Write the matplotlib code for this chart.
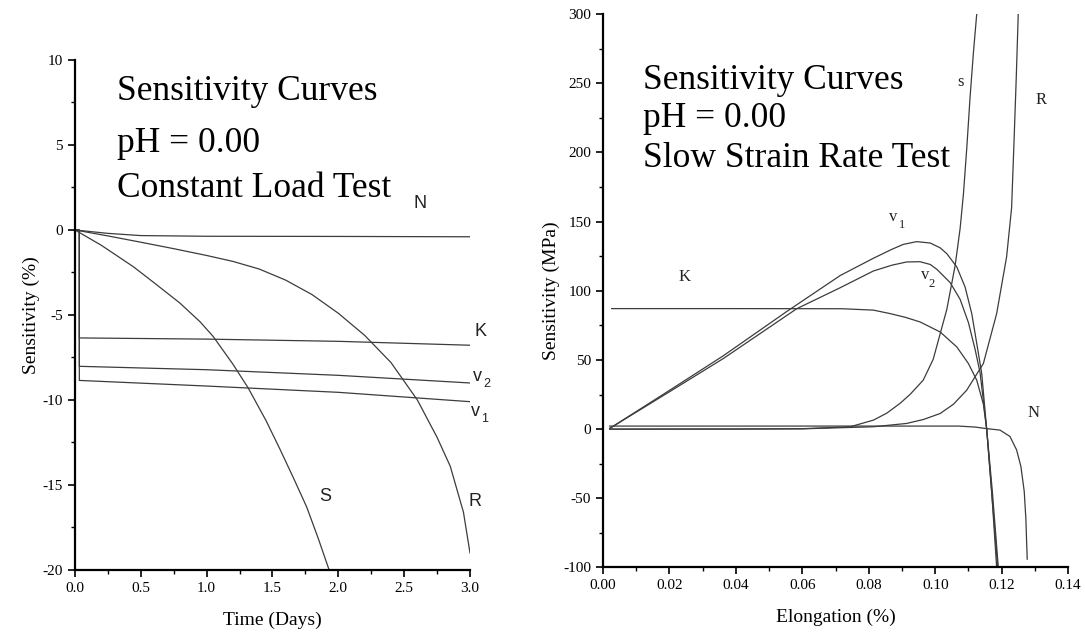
import numpy as np
import matplotlib
matplotlib.use("Agg")
import matplotlib.pyplot as plt
from matplotlib.ticker import MultipleLocator, FormatStrFormatter

plt.rcParams['font.family'] = ['Liberation Serif', 'DejaVu Serif']
plt.rcParams['axes.unicode_minus'] = False

# ---- left panel: constant load test (time in days, sensitivity %) ----
cl_N_t = [0, 0.25, 0.5, 1.0, 2.0, 3.0]
cl_N_y = [0, -0.2, -0.33, -0.37, -0.38, -0.4]
cl_K_t = [0, 0.033, 0.033, 1.0, 2.0, 3.0]
cl_K_y = [0, 0, -6.35, -6.42, -6.55, -6.78]
cl_v2_t = [0, 0.033, 0.033, 1.0, 2.0, 3.0]
cl_v2_y = [0, 0, -8.02, -8.22, -8.55, -9.0]
cl_v1_t = [0, 0.033, 0.033, 1.0, 2.0, 3.0]
cl_v1_y = [0, 0, -8.85, -9.18, -9.55, -10.1]
cl_S_t = [0, 0.2, 0.443, 0.6, 0.797, 0.95, 1.05, 1.2, 1.316, 1.45, 1.557, 1.66, 1.76,
          1.85, 1.93]
cl_S_y = [0, -0.9, -2.16, -3.1, -4.3, -5.4, -6.27, -7.9, -9.3, -11.2, -12.9, -14.6, -16.3,
          -18.2, -20.0]
cl_R_t = [0, 0.25, 0.5, 0.75, 1.0, 1.2, 1.4, 1.6, 1.8, 2.0, 2.2, 2.4, 2.6, 2.75, 2.85,
          2.95, 3.0]
cl_R_y = [0, -0.35, -0.72, -1.1, -1.5, -1.85, -2.3, -2.95, -3.8, -4.9, -6.2, -7.8, -10.0,
          -12.2, -13.9, -16.6, -19.0]

# ---- right panel: slow strain rate test (elongation %, sensitivity MPa) ----
ss_K_x = [0.0026, 0.04, 0.072, 0.0814, 0.0864, 0.091, 0.0954, 0.1015, 0.1065, 0.110,
          0.1125, 0.1145, 0.1155, 0.1168, 0.118, 0.1188]
ss_K_y = [87.1, 87.1, 87.0, 86.0, 83.5, 80.8, 77.5, 70.2, 59.4, 47.4, 35.4, 18, 0, -40,
          -75, -100]
ss_v1_x = [0.002, 0.02, 0.0362, 0.0553, 0.0714, 0.0814, 0.087, 0.0904, 0.0944, 0.0985,
           0.1015, 0.1035, 0.1065, 0.109, 0.111, 0.1125, 0.114, 0.1155, 0.117, 0.1185]
ss_v1_y = [0.5, 28, 53, 85, 111, 123.5, 130, 133.5, 135.5, 134.5, 131, 126.8, 117.2,
           102.7, 83.5, 62, 40.2, 0, -45, -100]
ss_v2_x = [0.002, 0.02, 0.0362, 0.0583, 0.0714, 0.0814, 0.087, 0.0914, 0.0954, 0.0985,
           0.1005, 0.1045, 0.1075, 0.110, 0.112, 0.1135, 0.1155, 0.1172, 0.119]
ss_v2_y = [0.5, 27, 51, 87, 102.2, 114.3, 118.5, 120.8, 121, 119, 115.5, 105.9, 93.8,
           77, 57.7, 40.9, 0, -45, -100]
ss_S_x = [0.002, 0.04, 0.06, 0.0744, 0.0814, 0.0854, 0.0894, 0.0924, 0.0964, 0.0994,
          0.1035, 0.106, 0.1075, 0.1085, 0.1095, 0.1105, 0.1115, 0.1125]
ss_S_y = [0, 0, 0.3, 1.7, 6.5, 11.5, 18.6, 25, 35.4, 50.5, 86.6, 118.2, 145, 170, 203,
          240, 272, 300]
ss_R_x = [0.002, 0.06, 0.0814, 0.0914, 0.0965, 0.1015, 0.1055, 0.1095, 0.1145, 0.1185,
          0.1215, 0.123, 0.1237, 0.1244, 0.125]
ss_R_y = [0, 0.2, 1.7, 4.1, 7.0, 11.3, 18, 28.2, 47.4, 83.5, 124.6, 160, 206, 254, 300]
ss_N_x = [0.002, 0.05, 0.107, 0.112, 0.115, 0.1195, 0.1225, 0.1245, 0.1258, 0.1268,
          0.1273, 0.1275, 0.1277]
ss_N_y = [2.2, 2.2, 2.2, 1.5, 0.5, -0.7, -5.3, -15, -27, -45, -65, -80, -94]

line_col = '#3c3c3c'
lw = 0.9

fig = plt.figure(figsize=(10.85, 6.4), dpi=100)
ax1 = fig.add_axes([0.0691, 0.1094, 0.3641, 0.7969])
ax2 = fig.add_axes([0.5558, 0.1133, 0.4286, 0.8648])

for ax in (ax1, ax2):
    ax.spines['top'].set_visible(False)
    ax.spines['right'].set_visible(False)
    ax.spines['left'].set_linewidth(1.6)
    ax.spines['bottom'].set_linewidth(1.6)
    ax.tick_params(which='major', direction='out', length=5, width=1.2, labelsize=11)
    ax.tick_params(which='minor', direction='out', length=3, width=1.0)

# left panel
for t, y in [(cl_N_t, cl_N_y), (cl_K_t, cl_K_y), (cl_v2_t, cl_v2_y),
             (cl_v1_t, cl_v1_y), (cl_S_t, cl_S_y), (cl_R_t, cl_R_y)]:
    ax1.plot(t, y, color=line_col, lw=lw)
ax1.set_xlim(0, 3.0)
ax1.set_ylim(-20, 10)
ax1.xaxis.set_major_locator(MultipleLocator(0.5))
ax1.xaxis.set_minor_locator(MultipleLocator(0.25))
ax1.yaxis.set_major_locator(MultipleLocator(5))
ax1.yaxis.set_minor_locator(MultipleLocator(2.5))
ax1.xaxis.set_major_formatter(FormatStrFormatter('%.1f'))
ax1.set_xlabel('Time (Days)', fontsize=14, labelpad=12)
ax1.set_ylabel('Sensitivity (%)', fontsize=14, labelpad=2)

big = 25.5
ax1.text(0.317, 7.65, 'Sensitivity Curves', fontsize=big)
ax1.text(0.317, 4.6, 'pH = 0.00', fontsize=big)
ax1.text(0.317, 1.96, 'Constant Load Test', fontsize=big)

sans = ['Liberation Sans', 'DejaVu Sans']
lab = dict(family=sans, fontsize=13, ha='center', va='center', color='#222222')
sub = dict(family=sans, fontsize=9, ha='center', va='center', color='#222222')
ax1.text(2.62, 1.57, 'N', **lab)
ax1.text(3.076, -5.98, 'K', **lab)
ax1.text(3.06, -8.63, 'v', **lab)
ax1.text(3.13, -9.05, '2', **sub)
ax1.text(3.04, -10.69, 'v', **lab)
ax1.text(3.11, -11.1, '1', **sub)
ax1.text(1.90, -15.7, 'S', **lab)
ax1.text(3.04, -16.0, 'R', **lab)

# right panel
for x, y in [(ss_K_x, ss_K_y), (ss_v1_x, ss_v1_y), (ss_v2_x, ss_v2_y),
             (ss_S_x, ss_S_y), (ss_R_x, ss_R_y), (ss_N_x, ss_N_y)]:
    ax2.plot(x, y, color=line_col, lw=lw)
ax2.set_xlim(0, 0.14)
ax2.set_ylim(-100, 300)
ax2.xaxis.set_major_locator(MultipleLocator(0.02))
ax2.xaxis.set_minor_locator(MultipleLocator(0.01))
ax2.yaxis.set_major_locator(MultipleLocator(50))
ax2.yaxis.set_minor_locator(MultipleLocator(25))
ax2.xaxis.set_major_formatter(FormatStrFormatter('%.2f'))
ax2.set_xlabel('Elongation (%)', fontsize=14, labelpad=12)
ax2.set_ylabel('Sensitivity (MPa)', fontsize=14, labelpad=2)

ax2.text(0.012, 245.9, 'Sensitivity Curves', fontsize=big)
ax2.text(0.012, 218.2, 'pH = 0.00', fontsize=big)
ax2.text(0.012, 189.3, 'Slow Strain Rate Test', fontsize=big)

slab = dict(fontsize=12, ha='center', va='center', color='#222222')
ssub = dict(fontsize=9, ha='center', va='center', color='#222222')
ax2.text(0.1075, 250.7, 's', **slab)
ax2.text(0.1318, 237.5, 'R', **slab)
ax2.text(0.0874, 153.2, 'v', **slab)
ax2.text(0.0899, 147.2, '1', **ssub)
ax2.text(0.0969, 111.2, 'v', **slab)
ax2.text(0.0990, 105.2, '2', **ssub)
ax2.text(0.0245, 110.0, 'K', **slab)
ax2.text(0.1297, 11.3, 'N', **slab)

fig.savefig('out.png', dpi=100)
